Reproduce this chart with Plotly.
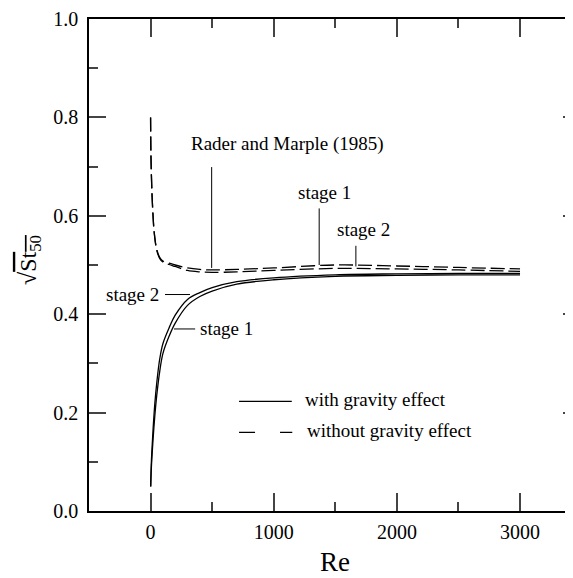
import plotly.graph_objects as go

# Re values and sqrt(St50)
re_grav = [1, 5, 10, 20, 35, 50, 75, 100, 150, 200, 300, 400, 500, 700, 1000, 1500, 2000, 2500, 3000]
grav_stage1 = [0.05, 0.08, 0.105, 0.145, 0.195, 0.235, 0.285, 0.32, 0.355, 0.382, 0.418, 0.436, 0.447, 0.461, 0.470, 0.477, 0.479, 0.480, 0.480]
grav_stage2 = [0.05, 0.09, 0.12, 0.165, 0.22, 0.26, 0.31, 0.34, 0.372, 0.398, 0.430, 0.444, 0.454, 0.466, 0.474, 0.480, 0.482, 0.483, 0.483]

re_nograv = [0, 2, 5, 10, 20, 30, 50, 75, 100, 150, 200, 300, 400, 500, 700, 1000, 1500, 2000, 2500, 3000]
nograv_stage1 = [0.80, 0.74, 0.70, 0.655, 0.60, 0.565, 0.532, 0.515, 0.508, 0.504, 0.500, 0.494, 0.491, 0.490, 0.491, 0.494, 0.500, 0.498, 0.495, 0.492]
nograv_stage2 = [0.80, 0.74, 0.70, 0.655, 0.60, 0.565, 0.530, 0.513, 0.506, 0.501, 0.497, 0.489, 0.486, 0.485, 0.486, 0.489, 0.493, 0.492, 0.490, 0.487]

serif = "Liberation Serif, Times New Roman, serif"

fig = go.Figure()
for y in (grav_stage1, grav_stage2):
    fig.add_trace(go.Scatter(x=re_grav, y=y, mode="lines", line=dict(color="black", width=1.3),
                             line_shape="spline", showlegend=False))
for y in (nograv_stage1, nograv_stage2):
    fig.add_trace(go.Scatter(x=re_nograv, y=y, mode="lines", line=dict(color="black", width=1.3, dash="14px,5px"),
                             line_shape="spline", showlegend=False))

# right-hand ticks without an axis line (the frame is clipped in the original)
fig.add_trace(go.Scatter(x=[None], y=[None], yaxis="y2", showlegend=False))

txt = dict(family=serif, size=19, color="black")
notes = [
    ("Rader and Marple (1985)", 1115, 0.746),
    ("stage 1", 1416, 0.648),
    ("stage 2", 1732, 0.572),
    ("stage 2", -143, 0.44),
    ("stage 1", 620, 0.370),
]
for t, x, y in notes:
    fig.add_annotation(x=x, y=y, text=t, showarrow=False, font=txt, xanchor="center", yanchor="middle")

pointers = [
    (496, 0.699, 496, 0.494),
    (1369, 0.615, 1369, 0.500),
    (1667, 0.539, 1667, 0.497),
    (117, 0.44, 320, 0.44),
    (190, 0.370, 362, 0.370),
]
for x0, y0, x1, y1 in pointers:
    fig.add_shape(type="line", x0=x0, y0=y0, x1=x1, y1=y1, xref="x", yref="y",
                  line=dict(color="black", width=1))

# legend drawn by hand
fig.add_shape(type="line", xref="paper", yref="paper", x0=0.310, x1=0.419, y0=0.223, y1=0.223,
              line=dict(color="black", width=1.3))
fig.add_shape(type="line", xref="paper", yref="paper", x0=0.310, x1=0.420, y0=0.160, y1=0.160,
              line=dict(color="black", width=1.3, dash="16px,25px,13px"))
fig.add_annotation(xref="paper", yref="paper", x=0.4415, y=0.226, text="with gravity effect",
                   showarrow=False, font=txt, xanchor="left", yanchor="middle")
fig.add_annotation(xref="paper", yref="paper", x=0.446, y=0.163, text="without gravity effect",
                   showarrow=False, font=txt, xanchor="left", yanchor="middle")

# axis titles
fig.add_annotation(xref="paper", yref="paper", x=0.508, y=-0.104, text="Re", showarrow=False,
                   font=dict(family=serif, size=27, color="black"), xanchor="center", yanchor="middle")
fig.add_annotation(xref="paper", yref="paper", x=-0.122, y=0.51, textangle=-90,
                   text="√<span style='text-decoration:overline'>St<sub>50</sub></span>", showarrow=False,
                   font=dict(family=serif, size=24, color="black"), xanchor="center", yanchor="middle")

# page body adds an 8px offset, so the figure is 8px smaller and margins shifted
fig.update_layout(
    width=565, height=570,
    margin=dict(l=81, r=0, t=8, b=67),
    plot_bgcolor="white", paper_bgcolor="white",
    font=dict(family=serif, size=20, color="black"),
    xaxis=dict(range=[-500, 3430], tick0=0, dtick=1000, ticks="inside", ticklen=18, tickwidth=1.5,
               showline=True, linecolor="black", linewidth=1.5, mirror="ticks", showgrid=False,
               zeroline=False, ticklabelstandoff=2,
               minor=dict(dtick=500, ticks="inside", ticklen=9, tickwidth=1.5, showgrid=False)),
    yaxis=dict(range=[0, 1], dtick=0.2, tickformat=".1f", ticks="inside", ticklen=17, tickwidth=1.5,
               showline=True, linecolor="black", linewidth=1.5, showgrid=False, zeroline=False,
               ticklabelstandoff=5, ticklabeloverflow="allow",
               minor=dict(dtick=0.1, ticks="inside", ticklen=9, tickwidth=1.5, showgrid=False)),
    yaxis2=dict(range=[0, 1], dtick=0.2, overlaying="y", side="right", ticks="inside", ticklen=10,
                tickwidth=1.5, showticklabels=False, showline=False, showgrid=False, zeroline=False,
                minor=dict(dtick=0.1, ticks="inside", ticklen=2, tickwidth=1.5, showgrid=False)),
)

fig.write_html("out.html")
